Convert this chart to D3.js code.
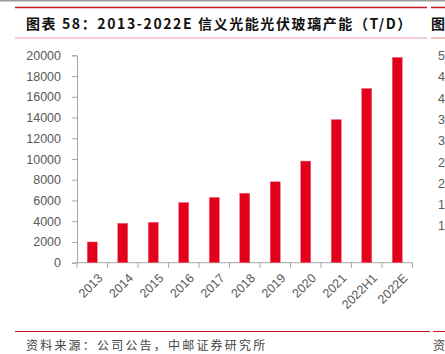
<!DOCTYPE html>
<html>
<head>
<meta charset="utf-8">
<script src="https://cdn.jsdelivr.net/npm/d3@7"></script>
<style>
  body { margin: 0; background: #fff; }
  svg { display: block; }
</style>
</head>
<body>
<div id="chart"></div>
<script>
var categories = ["2013", "2014", "2015", "2016", "2017", "2018", "2019", "2020", "2021", "2022H1", "2022E"];
var capacity = [2000, 3800, 3900, 5800, 6300, 6700, 7800, 9800, 13800, 16800, 19800];
var yTicks = [0, 2000, 4000, 6000, 8000, 10000, 12000, 14000, 16000, 18000, 20000];
// cut-off labels of the neighbouring chart on the right
var rightLabels = ["5", "4", "4", "3", "3", "2", "2", "1", "1"];

var svgWidth = 445;
var svgHeight = 354;

var svg = d3.select("#chart")
  .append("svg")
  .attr("width", svgWidth)
  .attr("height", svgHeight);

var cjk = "'Noto Sans CJK SC', 'Noto Sans', sans-serif";
var latin = "'Liberation Sans', Arial, sans-serif";

// header rules
svg.append("rect").attr("x", 0).attr("y", 0).attr("width", svgWidth).attr("height", 1.5).attr("fill", "#9a9a9a");
svg.append("line").attr("x1", 15).attr("x2", 427).attr("y1", 7.5).attr("y2", 7.5)
  .attr("stroke", "#c8161d").attr("stroke-width", 1.5);
svg.append("line").attr("x1", 431).attr("x2", 445).attr("y1", 7.5).attr("y2", 7.5)
  .attr("stroke", "#c8161d").attr("stroke-width", 1.5);
svg.append("line").attr("x1", 15).attr("x2", 427).attr("y1", 38).attr("y2", 38)
  .attr("stroke", "#eaa0a3").attr("stroke-width", 1.2);
svg.append("line").attr("x1", 431).attr("x2", 445).attr("y1", 38).attr("y2", 38)
  .attr("stroke", "#eaa0a3").attr("stroke-width", 1.2);

svg.append("text")
  .attr("x", 26).attr("y", 29)
  .attr("font-family", cjk).attr("font-size", 14).attr("font-weight", "bold")
  .attr("letter-spacing", 1.6)
  .attr("fill", "#111")
  .text("图表 58：2013-2022E 信义光能光伏玻璃产能（T/D）");
svg.append("text")
  .attr("x", 431).attr("y", 29)
  .attr("font-family", cjk).attr("font-size", 14).attr("font-weight", "bold")
  .attr("fill", "#111")
  .text("图");

// scales
var x = d3.scaleBand()
  .domain(categories)
  .range([77, 412.5])
  .paddingInner(0.67)
  .paddingOuter(0.335);

var y = d3.scaleLinear()
  .domain([0, 20000])
  .range([262.7, 55.3]);

// y axis
var yAxis = svg.append("g")
  .attr("transform", "translate(77,0)")
  .call(d3.axisLeft(y).tickValues(yTicks).tickSize(5).tickPadding(11).tickFormat(d3.format("d")));
yAxis.select(".domain").attr("stroke", "#a6a6a6");
yAxis.selectAll(".tick line").attr("stroke", "#a6a6a6");
yAxis.selectAll(".tick text")
  .attr("font-family", latin).attr("font-size", 12.5).attr("fill", "#595959");

// x axis: line plus ticks between the bands
var gap = (x.step() - x.bandwidth()) / 2;
var bounds = categories.map(function(d) { return x(d) - gap; });
bounds.push(x(categories[categories.length - 1]) + x.bandwidth() + gap);

var xAxis = svg.append("g");
xAxis.append("line")
  .attr("x1", x.range()[0]).attr("x2", x.range()[1])
  .attr("y1", y(0)).attr("y2", y(0))
  .attr("stroke", "#a6a6a6");
xAxis.selectAll(".xtick")
  .data(bounds)
  .enter()
  .append("line")
  .attr("class", "xtick")
  .attr("x1", d => d).attr("x2", d => d)
  .attr("y1", y(0)).attr("y2", y(0) + 5)
  .attr("stroke", "#a6a6a6");

xAxis.selectAll(".xlabel")
  .data(categories)
  .enter()
  .append("text")
  .attr("class", "xlabel")
  .attr("transform", d => `translate(${x(d) + x.bandwidth() / 2 + 5}, ${y(0) + 10}) rotate(-45)`)
  .attr("text-anchor", "end")
  .attr("dy", "0.7em")
  .attr("font-family", latin).attr("font-size", 12.5).attr("fill", "#595959")
  .text(d => d);

// bars
svg.append("g")
  .selectAll("rect")
  .data(categories)
  .enter()
  .append("rect")
  .attr("x", d => x(d))
  .attr("width", x.bandwidth())
  .attr("y", (d, i) => y(capacity[i]))
  .attr("height", (d, i) => y(0) - y(capacity[i]))
  .attr("fill", "#e2001a")
  .attr("stroke", "#f07080")
  .attr("stroke-width", 0.5);

// neighbouring chart labels at right edge
svg.append("g")
  .selectAll("text")
  .data(rightLabels)
  .enter()
  .append("text")
  .attr("x", 438)
  .attr("y", (d, i) => 60 + i * 21.3)
  .attr("font-family", latin).attr("font-size", 12.5).attr("fill", "#595959")
  .text(d => d);

// footer
svg.append("line").attr("x1", 15).attr("x2", 430).attr("y1", 331.5).attr("y2", 331.5)
  .attr("stroke", "#c8161d").attr("stroke-width", 1);
svg.append("line").attr("x1", 433).attr("x2", 445).attr("y1", 331.5).attr("y2", 331.5)
  .attr("stroke", "#c8161d").attr("stroke-width", 1);
svg.append("text")
  .attr("x", 26).attr("y", 350)
  .attr("font-family", cjk).attr("font-size", 12).attr("letter-spacing", 2.2)
  .attr("fill", "#444")
  .text("资料来源：公司公告，中邮证券研究所");
svg.append("text")
  .attr("x", 433).attr("y", 350)
  .attr("font-family", cjk).attr("font-size", 12)
  .attr("fill", "#444")
  .text("资");
</script>
</body>
</html>
